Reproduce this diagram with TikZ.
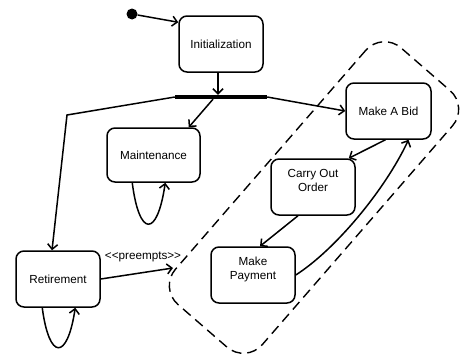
\documentclass[tikz,border=0pt]{standalone}
\usepackage{fontspec}
\setmainfont{Liberation Sans}
\usetikzlibrary{arrows.meta,calc}
\begin{document}
\begin{tikzpicture}[x=1pt,y=-1pt,
  state/.style={draw, line width=1.5pt, rounded corners=8pt,
    minimum width=84pt, minimum height=56pt, inner sep=0pt,
    align=center, font=\fontsize{11.7}{14}\selectfont},
  flow/.style={line width=1.5pt, -{Straight Barb[length=5pt,width=10pt]}},
  region/.style={draw, line width=1.4pt, dash pattern=on 10pt off 6pt,
    rounded corners=25pt},
  fork/.style={fill=black, inner sep=0pt, minimum width=92pt, minimum height=4pt},
  initial/.style={circle, fill=black, inner sep=0pt, minimum size=11pt},
  tag/.style={font=\fontsize{11.7}{14}\selectfont, inner sep=0pt}
  ]
\useasboundingbox (0,0) rectangle (460,356);

% states
\node[initial] (start) at (132,14) {};
\node[state] (init) at (221,44) {Initialization};
\node[fork] (bar) at (221,97) {};
\node[state, minimum width=93pt, minimum height=54pt] (maint) at (153.5,155) {Maintenance};
\node[state] (ret) at (58,279) {Retirement};
\node[state, minimum width=85pt] (bid) at (388.5,111) {Make A Bid};
\node[state] (carry) at (313,187) {Carry Out\\Order\\~};
\node[state] (pay) at (253,275) {Make\\Payment\\~};

% group of bidding states
\node[region, rotate=49, minimum width=340pt, minimum height=115pt] (group) at (314,197.5) {};
\coordinate (pre) at (173,268);

% transitions
\draw[flow] (start) -- ($(init.north west)+(0,7)$);
\draw[flow] (init.south -| 218,0) -- (bar.north -| 218,0);
\draw[flow] (bar.west) -- (67,115) -- ($(ret.north)+(-6,0)$);
\draw[flow] ($(bar.south)+(-8,0)$) -- ($(maint.north east)+(-12,0)$);
\draw[flow] (bar.east) -- (bid.west);
\draw[flow] ($(bid.south)+(-3,0)$) -- ($(carry.north east)+(-7,0)$);
\draw[flow] ($(carry.south)+(-15,0)$) -- ($(pay.north)+(7,0)$);
\draw[flow] (pay.east) .. controls (335,250) and (385,190) .. ($(bid.south)+(20,0)$);
\draw[flow] (ret.east) -- (pre);
\node[tag] (preempts) at (143,257) {{<}{<}preempts{>}{>}};

% self transitions
\draw[flow] ($(maint.south west)+(26,0)$) .. controls +(7,55) and +(-8,55) .. ($(maint.south west)+(59,0)$);
\draw[flow] ($(ret.south west)+(27,0)$) .. controls +(7,53) and +(-8,53) .. ($(ret.south west)+(60,0)$);
\end{tikzpicture}
\end{document}
